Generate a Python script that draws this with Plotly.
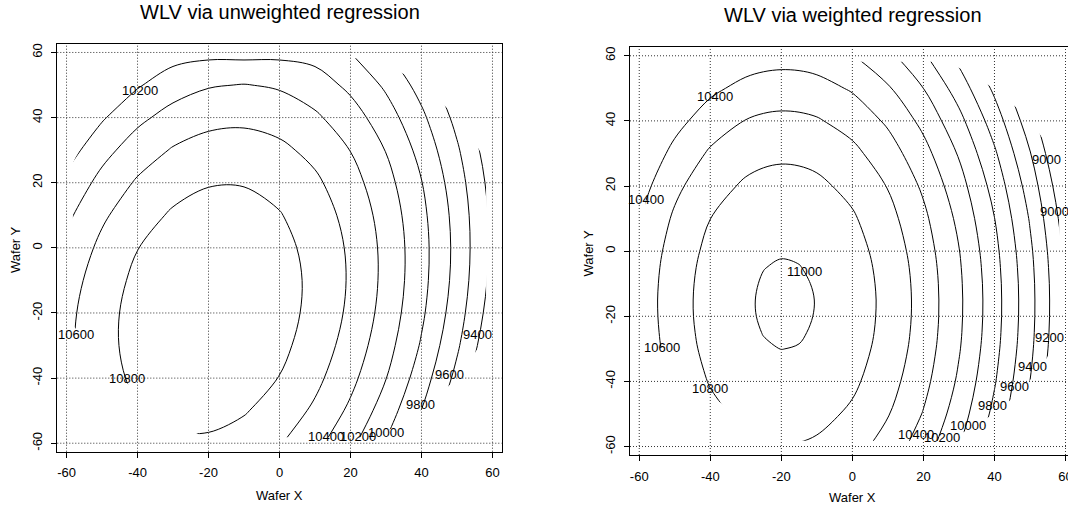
import numpy as np
import plotly.graph_objects as go

# ---------------- data (read/estimated from the reference picture) ----------------
# WLV, unweighted regression: rows follow unweighted_y, columns follow unweighted_x
unweighted_x = [-60, -50, -40, -30, -20, -10, 0, 10, 20, 30, 40, 50, 60]
unweighted_y = [-60, -50, -40, -30, -20, -10, 0, 10, 20, 30, 40, 50, 60]
wlv_unweighted = [
    [10446, 10607, 10714, 10769, 10770, 10719, 10614, 10457, 10246, 9983, 9666, 9297, 8874],
    [10509, 10676, 10790, 10851, 10860, 10815, 10717, 10566, 10362, 10106, 9796, 9433, 9017],
    [10546, 10720, 10841, 10909, 10924, 10886, 10795, 10651, 10454, 10204, 9900, 9544, 9135],
    [10559, 10739, 10867, 10942, 10963, 10932, 10848, 10710, 10520, 10277, 9980, 9631, 9229],
    [10546, 10734, 10868, 10950, 10978, 10953, 10876, 10745, 10562, 10325, 10035, 9693, 9297],
    [10509, 10703, 10844, 10933, 10968, 10950, 10879, 10755, 10578, 10348, 10065, 9730, 9341],
    [10447, 10648, 10796, 10891, 10933, 10921, 10857, 10740, 10570, 10347, 10071, 9742, 9359],
    [10360, 10568, 10722, 10824, 10873, 10868, 10811, 10700, 10537, 10321, 10051, 9729, 9353],
    [10248, 10463, 10624, 10732, 10788, 10790, 10739, 10636, 10479, 10269, 10007, 9691, 9322],
    [10112, 10333, 10501, 10616, 10678, 10687, 10643, 10546, 10396, 10193, 9937, 9628, 9267],
    [9950, 10178, 10353, 10475, 10543, 10559, 10522, 10432, 10289, 10092, 9843, 9541, 9186],
    [9764, 9998, 10180, 10309, 10384, 10407, 10376, 10293, 10156, 9967, 9724, 9429, 9080],
    [9553, 9794, 9982, 10118, 10145, 10138, 10147, 10129, 9999, 9816, 9580, 9292, 8950],
]

# WLV, weighted regression (denser sampling around the 11000 peak)
weighted_x = [-60, -50, -40, -30, -25, -20, -15, -10, 0, 10, 20, 30, 40, 50, 60]
weighted_y = [-60, -50, -40, -30, -25, -20, -15, -10, -5, 0, 10, 20, 30, 40, 50, 60]
wlv_weighted = [
    [10249, 10483, 10651, 10755, 10783, 10794, 10788, 10767, 10675, 10518, 10295, 10008, 9655, 9237, 8754],
    [10342, 10576, 10745, 10848, 10876, 10887, 10881, 10860, 10768, 10611, 10389, 10101, 9748, 9330, 8847],
    [10411, 10645, 10814, 10917, 10945, 10956, 10951, 10929, 10837, 10680, 10458, 10170, 9817, 9399, 8916],
    [10456, 10690, 10859, 10962, 10990, 11001, 10996, 10974, 10882, 10725, 10503, 10215, 9862, 9445, 8961],
    [10469, 10703, 10872, 10976, 11003, 11014, 11009, 10988, 10896, 10739, 10516, 10229, 9876, 9458, 8975],
    [10477, 10711, 10880, 10984, 11011, 11022, 11017, 10995, 10903, 10746, 10524, 10236, 9884, 9466, 8983],
    [10479, 10713, 10881, 10985, 11013, 11024, 11018, 10997, 10905, 10748, 10525, 10238, 9885, 9467, 8984],
    [10474, 10708, 10877, 10981, 11008, 11019, 11014, 10992, 10900, 10743, 10521, 10233, 9881, 9463, 8980],
    [10464, 10698, 10867, 10970, 10998, 11009, 11003, 10982, 10890, 10733, 10511, 10223, 9870, 9452, 8969],
    [10447, 10681, 10850, 10954, 10981, 10992, 10987, 10966, 10874, 10716, 10494, 10207, 9854, 9436, 8953],
    [10396, 10630, 10799, 10903, 10930, 10941, 10936, 10915, 10823, 10666, 10443, 10156, 9803, 9385, 8902],
    [10321, 10555, 10724, 10828, 10855, 10866, 10861, 10840, 10748, 10591, 10368, 10081, 9728, 9310, 8827],
    [10223, 10457, 10625, 10729, 10757, 10768, 10762, 10741, 10649, 10492, 10269, 9982, 9629, 9211, 8728],
    [10100, 10334, 10503, 10606, 10634, 10645, 10639, 10618, 10526, 10369, 10147, 9859, 9506, 9088, 8605],
    [9953, 10187, 10356, 10459, 10487, 10498, 10493, 10471, 10379, 10222, 10000, 9712, 9359, 8942, 8458],
    [9782, 10016, 10185, 10288, 10316, 10327, 10322, 10300, 10208, 10051, 9829, 9541, 9188, 8771, 8288],
]

contour_start, contour_end, contour_step = 9000, 11000, 200
tick_values = [-60, -40, -20, 0, 20, 40, 60]
tick_labels = ["-60", "-40", "-20", "0", "20", "40", "60"]

# edge of the measured wafer region (angle in degrees -> radius), plus square limit
mask_angle_deg = [0, 90, 180, 200, 215, 232, 250, 265, 360]
mask_radius = [63.8, 63.8, 63.8, 63.3, 60.0, 59.5, 61.8, 63.8, 63.8]
mask_half_side = 58.2

# contour labels as placed in the reference
left_labels = ["10200", "10600", "10800", "9400", "9600", "9800", "10000", "10200", "10400"]
left_label_x = [-39.4, -57.4, -43.1, 55.9, 48.0, 39.7, 30.1, 22.1, 13.2]
left_label_y = [48.2, -26.7, -40.0, -26.7, -38.8, -48.2, -56.6, -58.0, -57.8]
right_labels = ["10400", "10400", "11000", "10600", "10800", "10400", "10200", "10000",
                "9800", "9600", "9400", "9200", "9000", "9000"]
right_label_x = [-38.7, -58.0, -13.4, -53.7, -40.1, 17.9, 25.1, 32.6, 39.5, 45.6, 50.8, 55.6, 54.7, 57.0]
right_label_y = [47.6, 15.9, -6.1, -29.7, -42.3, -56.3, -57.1, -53.5, -47.4, -41.7, -35.5, -26.6, 28.2, 12.3]

# ---------------- figure ----------------
W, H = 1068, 508
def xp(px): return px / W
def yp(py): return 1 - py / H

FONT = "Liberation Sans, Arial, Helvetica, sans-serif"
fig = go.Figure()
for gx, gy, z, xa, ya in [(unweighted_x, unweighted_y, wlv_unweighted, 'x', 'y'),
                          (weighted_x, weighted_y, wlv_weighted, 'x2', 'y2')]:
    fig.add_trace(go.Contour(
        x=gx, y=gy, z=z, xaxis=xa, yaxis=ya,
        contours=dict(start=contour_start, end=contour_end, size=contour_step, coloring='lines'),
        colorscale=[[0, 'black'], [1, 'black']], showscale=False,
        line=dict(width=1, smoothing=1), hoverinfo='skip'))

# blank out everything outside the wafer region
th = np.radians(np.arange(0, 361, 1.0))
rr = np.interp(np.degrees(th), mask_angle_deg, mask_radius)
cx = np.clip(rr * np.cos(th), -mask_half_side, mask_half_side)
cy = np.clip(rr * np.sin(th), -mask_half_side, mask_half_side)
inner = "M" + " L".join(f"{a:.2f},{b:.2f}" for a, b in zip(cx, cy)) + " Z"
outer = " M-70,-70 L70,-70 L70,70 L-70,70 Z"

shapes = []
grid_line = dict(color='#333333', width=1, dash='1px,2px')
for xa, ya in [('x', 'y'), ('x2', 'y2')]:
    shapes.append(dict(type='path', path=inner + outer, xref=xa, yref=ya, fillcolor='white',
                       fillrule='evenodd', line=dict(width=0), layer='above'))
    for v in tick_values:
        shapes.append(dict(type='line', xref=xa, yref=ya + ' domain', x0=v, x1=v, y0=0, y1=1,
                           line=grid_line, layer='above'))
        shapes.append(dict(type='line', xref=xa + ' domain', yref=ya, x0=0, x1=1, y0=v, y1=v,
                           line=grid_line, layer='above'))

ax = dict(tickvals=tick_values, ticktext=tick_labels, ticks='outside', ticklen=5, tickcolor='black',
          tickwidth=1, showgrid=False, zeroline=False, showline=True, mirror=True, linecolor='black',
          linewidth=1, automargin=False, ticklabeloverflow='allow',
          tickfont=dict(family=FONT, size=13, color='black'))
fig.update_layout(
    width=W, height=H, margin=dict(l=0, r=0, t=0, b=0, autoexpand=False),
    paper_bgcolor='white', plot_bgcolor='white', showlegend=False, shapes=shapes,
    xaxis=dict(ax, domain=[xp(57.3), xp(501.7)], range=[-62.6, 62.6], anchor='y', ticklabelstandoff=4),
    yaxis=dict(ax, domain=[yp(451.7), yp(44)], range=[-62.6, 62.6], anchor='x',
               tickangle=-90, ticklabelstandoff=4),
    xaxis2=dict(ax, domain=[xp(630), 1.0], range=[-62.6, 60.7], anchor='y2', ticklabelstandoff=4),
    yaxis2=dict(ax, domain=[yp(455), yp(47.3)], range=[-62.6, 62.6], anchor='x2',
                tickangle=-90, ticklabelstandoff=4),
)

ann = []
def A(text, x, y, size=13, **kw):
    ann.append(dict(text=text, x=x, y=y, xref='paper', yref='paper', showarrow=False,
                    font=dict(family=FONT, size=size, color='black'),
                    xanchor='center', yanchor='middle', **kw))

A("WLV via unweighted regression", xp(279.5), yp(12), size=20)
A("WLV via weighted regression", xp(852.8), yp(15), size=20)
A("Wafer X", xp(279.5), yp(495))
A("Wafer X", xp(852.8), yp(497.7))
A("Wafer Y", xp(15), yp(250), textangle=-90)
A("Wafer Y", xp(587.5), yp(253), textangle=-90)

for t, x, y in zip(left_labels, left_label_x, left_label_y):
    ann.append(dict(text=t, x=x, y=y, xref='x', yref='y', showarrow=False,
                    font=dict(family=FONT, size=13, color='black')))
for t, x, y in zip(right_labels, right_label_x, right_label_y):
    ann.append(dict(text=t, x=x, y=y, xref='x2', yref='y2', showarrow=False,
                    font=dict(family=FONT, size=13, color='black')))
fig.update_layout(annotations=ann)
fig.write_html("out.html", config={'displayModeBar': False},
               post_script="document.body.style.margin='0';document.body.style.overflow='hidden';")
